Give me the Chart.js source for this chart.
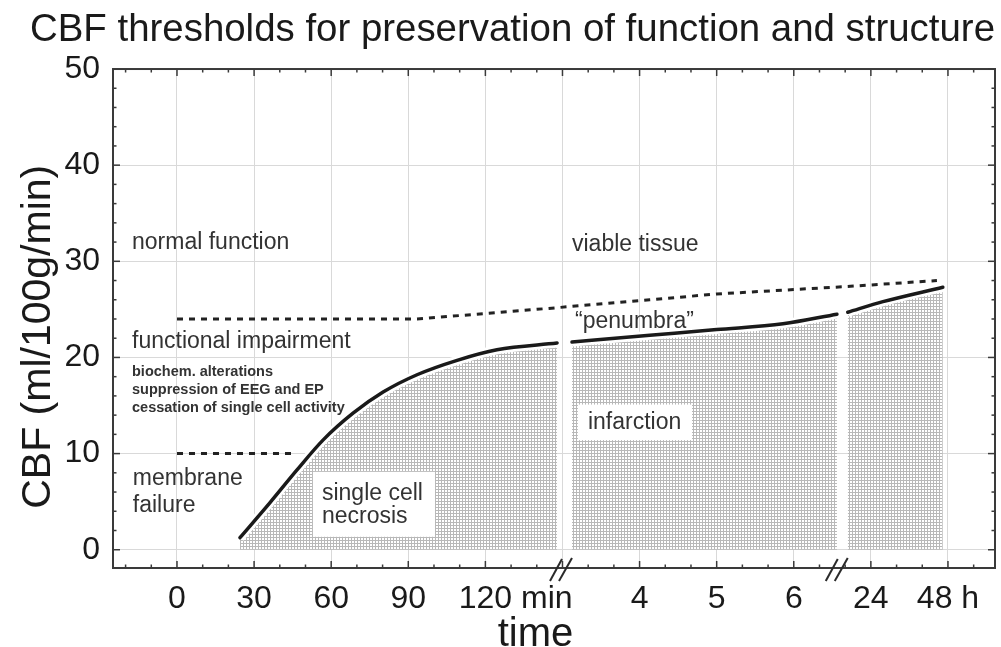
<!DOCTYPE html>
<html><head><meta charset="utf-8">
<script src="https://cdn.jsdelivr.net/npm/chart.js@4.4.0/dist/chart.umd.min.js"></script>
<style>html,body{margin:0;padding:0;background:#fff;overflow:hidden}#wrap{width:1001px;height:647px;position:relative}</style>
</head><body><div id="wrap"><canvas id="c" width="1001" height="647"></canvas></div>
<script>
// ---- text ----
const titleText = 'CBF thresholds for preservation of function and structure';
const yTitle = 'CBF (ml/100g/min)';
const xTitle = 'time';
// x axis uses evenly spaced units: every 30 units is one labelled step
const xTickLabels = ['0', '30', '60', '90', '120', '', '4', '5', '6', '24', '48 h'];
const xUnitSuffix = ' min';           // trails the "120" label
// ---- series (x in axis units, y in ml/100g/min) ----
const seg1X = [24.5, 36.2, 46.7, 56.8, 68.5, 80.2, 93.4, 109, 124.5, 147.9];
const seg1Y = [1.25, 4.9, 8.3, 11.4, 14.2, 16.4, 18.2, 19.7, 20.8, 21.5];
const seg2X = [153.7, 184, 210, 235.8, 256.8];
const seg2Y = [21.6, 22.3, 22.9, 23.5, 24.5];
const seg3X = [261, 274.7, 298];
const seg3Y = [24.7, 25.8, 27.3];
const upperX = [0, 93.4, 144.5, 184, 210, 262, 295.7];
const upperY = [24.0, 24.0, 25.1, 26.0, 26.6, 27.4, 28.0];
const lowerX = [0, 44.7];
const lowerY = [10, 10];
const breakX = [150.2, 257.5];
// ---- annotation labels ----
const labelTexts = ['normal function', 'viable tissue', 'functional impairment', 'membrane', 'failure',
  'single cell', 'necrosis', 'infarction', '\u201Cpenumbra\u201D'];
const labelX = [-17.5, 153.7, -17.5, -17.2, -17.2, 56.4, 56.4, 159.9, 154.9];
const labelY = [31.3, 31.1, 21.0, 6.76, 3.95, 5.2, 2.8, 12.6, 23.1];
const smallTexts = ['biochem. alterations', 'suppression of EEG and EP', 'cessation of single cell activity'];
const smallX = [-17.5, -17.5, -17.5];
const smallY = [18.1, 16.2, 14.35];

const pts = (xs, ys) => xs.map((v, i) => ({x: v, y: ys[i]}));
const FONT = "'Liberation Sans', Arial, Helvetica, sans-serif";
const onStep = (v, s) => { const r = Math.round(v); return Math.abs(v - r) < 1e-6 && r % s === 0; };

const canvas = document.getElementById('c');
const mainCtx = canvas.getContext('2d');
function makePattern() {
  const p = document.createElement('canvas'); p.width = 3; p.height = 3;
  const g = p.getContext('2d');
  g.fillStyle = '#ffffff'; g.fillRect(0, 0, 3, 3);
  g.fillStyle = '#b8b8b8'; g.fillRect(0, 0, 3, 1); g.fillRect(0, 0, 1, 3);
  return mainCtx.createPattern(p, 'repeat');
}
const pattern = makePattern();

function fillDs(data) {
  return {data, fill: 'origin', backgroundColor: pattern, borderColor: '#ffffff', borderWidth: 9,
    pointRadius: 0, cubicInterpolationMode: 'monotone', order: 3};
}
function curveDs(data) {
  return {data, fill: false, borderColor: '#1a1a1a', borderWidth: 3.5, pointRadius: 0,
    cubicInterpolationMode: 'monotone', order: 1, borderCapStyle: 'round'};
}
function dashDs(data) {
  return {data, fill: false, borderColor: '#222', borderWidth: 3, borderDash: [6, 6], pointRadius: 0,
    tension: 0, order: 2};
}

const decor = {
  id: 'decor',
  afterDatasetsDraw(chart) {
    const {ctx, chartArea: a, scales: {x, y}} = chart;
    ctx.save();
    // frame
    ctx.strokeStyle = '#3a3a3a'; ctx.lineWidth = 2;
    ctx.strokeRect(a.left, a.top, a.right - a.left, a.bottom - a.top);
    const seg = (x1, y1, x2, y2) => { ctx.beginPath(); ctx.moveTo(x1, y1); ctx.lineTo(x2, y2); ctx.stroke(); };
    ctx.lineWidth = 1.5;
    x.ticks.forEach(t => {
      if (!onStep(t.value, 10)) return;
      const len = onStep(t.value, 30) ? 7 : 3.5;
      const px = x.getPixelForValue(t.value);
      seg(px, a.bottom, px, a.bottom - len); seg(px, a.top, px, a.top + len);
    });
    y.ticks.forEach(t => {
      if (!onStep(t.value, 2)) return;
      const len = onStep(t.value, 10) ? 7 : 3.5;
      const py = y.getPixelForValue(t.value);
      seg(a.left, py, a.left + len, py); seg(a.right, py, a.right - len, py);
    });
    // axis break marks
    ctx.lineWidth = 2; ctx.strokeStyle = '#2a2a2a';
    breakX.forEach(v => {
      const px = x.getPixelForValue(v);
      seg(px - 13, a.bottom + 13, px - 1, a.bottom - 9);
      seg(px - 4, a.bottom + 13, px + 9, a.bottom - 10);
    });
    // "min" after the 120 label
    ctx.fillStyle = '#1a1a1a';
    ctx.font = '32px ' + FONT; ctx.textBaseline = 'middle'; ctx.textAlign = 'left';
    const p120 = x.getPixelForValue(120);
    ctx.fillText(xUnitSuffix, p120 + ctx.measureText('120').width / 2, a.bottom + 12 + 19.2);
    // axis titles
    ctx.font = '40px ' + FONT; ctx.textAlign = 'center'; ctx.textBaseline = 'alphabetic';
    ctx.fillText(xTitle, x.getPixelForValue(139.5), 646);
    ctx.save();
    ctx.translate(50, y.getPixelForValue(22.15));
    ctx.rotate(-Math.PI / 2);
    ctx.font = '41px ' + FONT;
    ctx.fillText(yTitle, 0, 0);
    ctx.restore();
    // white boxes behind two labels
    ctx.fillStyle = '#ffffff';
    const box = (x0, x1, y0, y1) => {
      const l = x.getPixelForValue(x0), r = x.getPixelForValue(x1);
      const t = y.getPixelForValue(y0), b = y.getPixelForValue(y1);
      ctx.fillRect(l, t, r - l, b - t);
    };
    box(52.9, 100.4, 8.1, 1.35);
    box(156, 200.4, 15.1, 11.4);
    // annotation labels
    ctx.fillStyle = '#333333'; ctx.textAlign = 'left'; ctx.textBaseline = 'alphabetic';
    ctx.font = '23px ' + FONT;
    labelTexts.forEach((s, i) => ctx.fillText(s, x.getPixelForValue(labelX[i]), y.getPixelForValue(labelY[i])));
    ctx.font = 'bold 14.5px ' + FONT;
    smallTexts.forEach((s, i) => ctx.fillText(s, x.getPixelForValue(smallX[i]), y.getPixelForValue(smallY[i])));
    ctx.restore();
  }
};

new Chart(canvas, {
  type: 'line',
  data: {
    datasets: [
      fillDs(pts(seg1X, seg1Y)), fillDs(pts(seg2X, seg2Y)), fillDs(pts(seg3X, seg3Y)),
      dashDs(pts(upperX, upperY)), dashDs(pts(lowerX, lowerY)),
      curveDs(pts(seg1X, seg1Y)), curveDs(pts(seg2X, seg2Y)), curveDs(pts(seg3X, seg3Y))
    ]
  },
  options: {
    responsive: false, animation: false,
    layout: {padding: {left: 30, right: 6, top: 0, bottom: 0}},
    plugins: {
      legend: {display: false}, tooltip: {enabled: false},
      title: {display: true, text: titleText, color: '#1a1a1a',
        font: {family: FONT, size: 38.6, weight: 'normal', lineHeight: 1.2},
        padding: {top: 7.5, bottom: 15.2}}
    },
    scales: {
      x: {
        type: 'linear', min: -24.9, max: 318.3,
        afterFit: s => { s.height = 79; },
        border: {display: false},
        grid: {color: c => (onStep(c.tick.value, 30) && c.tick.value >= 0 && c.tick.value <= 300) ? '#d9d9d9' : 'rgba(0,0,0,0)', drawTicks: false, lineWidth: 1},
        ticks: {
          stepSize: 10, autoSkip: false, includeBounds: false, maxRotation: 0, minRotation: 0, padding: 12, color: '#1a1a1a',
          font: {family: FONT, size: 32},
          callback: v => {
            if (!onStep(v, 30)) return '';
            const i = Math.round(v) / 30;
            return (i >= 0 && i < xTickLabels.length) ? xTickLabels[i] : '';
          }
        }
      },
      y: {
        min: -1.9, max: 50,
        afterFit: s => { s.width = 83; },
        border: {display: false},
        grid: {color: c => (onStep(c.tick.value, 10) ? '#d9d9d9' : 'rgba(0,0,0,0)'), drawTicks: false, lineWidth: 1},
        ticks: {
          stepSize: 2, autoSkip: false, includeBounds: false, padding: 13, color: '#1a1a1a',
          font: {family: FONT, size: 32},
          callback: v => onStep(v, 10) ? String(Math.round(v)) : ''
        }
      }
    }
  },
  plugins: [decor]
});
</script></body></html>
